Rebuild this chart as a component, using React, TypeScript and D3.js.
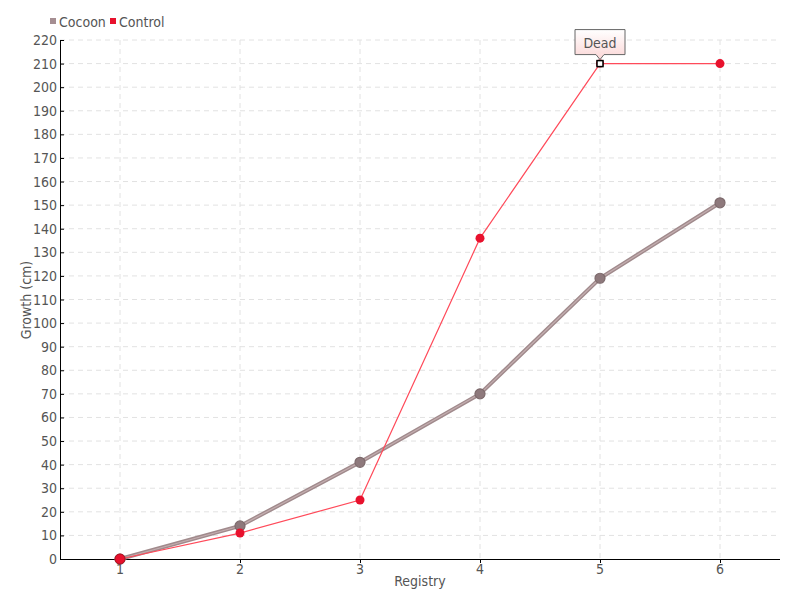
import React from "react";
import * as d3 from "d3";

const registries = [1, 2, 3, 4, 5, 6];
const cocoon = [0, 14, 41, 70, 119, 151];
const control = [0, 11, 25, 136, 210, 210];
const yTicks = d3.range(0, 221, 10);
const seriesNames = ["Cocoon", "Control"];

const W = 800, H = 600;
const m = { left: 60, right: 780, top: 40, bottom: 559 };
const FONT = "'DejaVu Sans Condensed', 'Liberation Sans Narrow', sans-serif";

export default function App() {
  const x = d3.scaleLinear().domain([0.5, 6.5]).range([m.left, m.right]);
  const y = d3.scaleLinear().domain([0, 220]).range([m.bottom, m.top]);
  const line = d3.line<number>().x((_, i) => x(registries[i])).y((d) => y(d));
  const deadIdx = 4;
  const dx = x(registries[deadIdx]);
  const dy = y(control[deadIdx]);
  return (
    <svg width={W} height={H} style={{ position: "absolute", left: 0, top: 0, background: "#fff" }}>
      <defs>
        <linearGradient id="tip" x1="0" y1="0" x2="0" y2="1">
          <stop offset="0" stopColor="#ffffff" />
          <stop offset="1" stopColor="#fbd6d6" />
        </linearGradient>
      </defs>
      {yTicks.filter((t) => t > 0).map((t) => (
        <line key={"gy" + t} x1={m.left} x2={m.right} y1={y(t)} y2={y(t)} stroke="#e2e2e2" strokeDasharray="5,4" />
      ))}
      {registries.map((r) => (
        <line key={"gx" + r} x1={x(r)} x2={x(r)} y1={m.top} y2={m.bottom} stroke="#e2e2e2" strokeDasharray="5,4" />
      ))}
      <line x1={m.left + 0.5} x2={m.left + 0.5} y1={m.top} y2={m.bottom + 1} stroke="#000" />
      <line x1={m.left} x2={m.right} y1={m.bottom + 0.5} y2={m.bottom + 0.5} stroke="#000" />
      {yTicks.map((t) => (
        <g key={"ty" + t}>
          <line x1={m.left} x2={m.left + 4} y1={y(t) + 0.5} y2={y(t) + 0.5} stroke="#000" />
          <text x={m.left - 3} y={y(t) + 5} textAnchor="end" fontFamily={FONT} fontSize={14} fill="#555">{t}</text>
        </g>
      ))}
      {registries.map((r) => (
        <g key={"tx" + r}>
          <line x1={x(r) + 0.5} x2={x(r) + 0.5} y1={m.bottom} y2={m.bottom + 4} stroke="#000" />
          <text x={x(r)} y={m.bottom + 15} textAnchor="middle" fontFamily={FONT} fontSize={14} fill="#555">{r}</text>
        </g>
      ))}
      <text x={420} y={586} textAnchor="middle" fontFamily={FONT} fontSize={14} fill="#555">Registry</text>
      <text transform={`translate(31,300) rotate(-90)`} textAnchor="middle" fontFamily={FONT} fontSize={14} fill="#555">Growth (cm)</text>
      <path d={line(cocoon) || ""} fill="none" stroke="#a08a8c" strokeWidth={4} />
      <path d={line(cocoon) || ""} fill="none" stroke="#c4aeb0" strokeWidth={1.2} />
      <path d={line(control) || ""} fill="none" stroke="#ff4a5a" strokeWidth={1.2} />
      {cocoon.map((v, i) => (
        <circle key={"cc" + i} cx={x(registries[i])} cy={y(v)} r={5} fill="#8e797c" stroke="#7d6a6c" strokeWidth={1.2} />
      ))}
      {control.map((v, i) =>
        i === deadIdx ? (
          <g key={"ct" + i}>
            <circle cx={dx} cy={dy} r={4} fill="#e8112d" />
            <rect x={dx - 3} y={dy - 3} width={6} height={6} fill="#fff" stroke="#000" strokeWidth={1.5} />
          </g>
        ) : (
          <circle key={"ct" + i} cx={x(registries[i])} cy={y(v)} r={i === 0 ? 5 : 4.5} fill="#e8112d" stroke={i === 0 ? "#b01020" : "none"} />
        )
      )}
      <path
        d={`M${dx - 25},${dy - 34} H${dx + 25} V${dy - 9} H${dx + 4} L${dx},${dy - 4} L${dx - 4},${dy - 9} H${dx - 25} Z`}
        fill="url(#tip)" stroke="#666" strokeWidth={1}
      />
      <text x={dx} y={dy - 16} textAnchor="middle" fontFamily={FONT} fontSize={14} fill="#555">Dead</text>
      {seriesNames.map((n, i) => {
        const lx = [50, 110][i];
        return (
          <g key={n}>
            <rect x={lx} y={18} width={6} height={6} fill={i === 0 ? "#a58e92" : "#e8112d"} />
            <text x={lx + 9} y={27} fontFamily={FONT} fontSize={14} fill="#555">{n}</text>
          </g>
        );
      })}
    </svg>
  );
}
